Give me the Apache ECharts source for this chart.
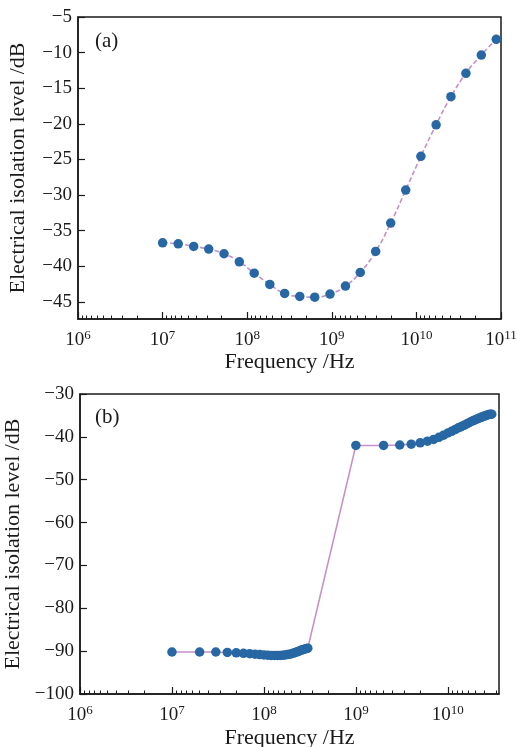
<!DOCTYPE html>
<html>
<head>
<meta charset="utf-8">
<script src="https://cdn.jsdelivr.net/npm/echarts@6/dist/echarts.min.js"></script>
<style>
html, body { margin: 0; padding: 0; background: #fff; }
#chart { width: 517px; height: 747px; }
</style>
</head>
<body>
<div id="chart"></div>
<script>
// (a) measured isolation, roughly log-spaced frequencies
var freqA = [1.0e7, 1.53e7, 2.33e7, 3.51e7, 5.32e7, 8.07e7, 1.21e8, 1.85e8, 2.77e8, 4.18e8, 6.28e8, 9.53e8,
             1.45e9, 2.17e9, 3.30e9, 4.97e9, 7.48e9, 1.13e10, 1.71e10, 2.56e10, 3.85e10, 5.85e10, 8.79e10];
var isoA = [-36.7, -36.84, -37.21, -37.58, -38.24, -39.37, -40.96, -42.54, -43.81, -44.23, -44.33, -43.9,
            -42.78, -40.86, -37.91, -33.93, -29.3, -24.56, -20.14, -16.19, -12.91, -10.34, -8.13];

// (b) two sweeps: 10 MHz..300 MHz and 1 GHz..30 GHz
var freqB = [1e7, 2e7, 3e7, 4e7, 5e7, 6e7, 7e7, 8e7, 9e7, 1e8,
             1.1e8, 1.2e8, 1.3e8, 1.4e8, 1.5e8, 1.6e8, 1.7e8, 1.8e8, 1.9e8, 2e8,
             2.1e8, 2.2e8, 2.3e8, 2.4e8, 2.5e8, 2.6e8, 2.7e8, 2.8e8, 2.9e8, 3e8,
             1e9, 2e9, 3e9, 4e9, 5e9, 6e9, 7e9, 8e9, 9e9, 1e10,
             1.1e10, 1.2e10, 1.3e10, 1.4e10, 1.5e10, 1.6e10, 1.7e10, 1.8e10, 1.9e10, 2e10,
             2.1e10, 2.2e10, 2.3e10, 2.4e10, 2.5e10, 2.6e10, 2.7e10, 2.8e10, 2.9e10, 3e10];
var isoB = [-90.2, -90.2, -90.2, -90.3, -90.4, -90.5, -90.6, -90.7, -90.8, -90.9,
            -90.95, -91.0, -91.0, -91.0, -91.0, -90.95, -90.9, -90.8, -90.7, -90.6,
            -90.45, -90.3, -90.15, -90.0, -89.85, -89.7, -89.6, -89.5, -89.4, -89.3,
            -42.0, -42.0, -41.9, -41.7, -41.4, -41.0, -40.6, -40.1, -39.6, -39.1,
            -38.7, -38.3, -37.9, -37.6, -37.3, -37.0, -36.7, -36.4, -36.2, -36.0,
            -35.8, -35.6, -35.45, -35.3, -35.15, -35.0, -34.9, -34.8, -34.75, -34.7];

var decadesA = [1e6, 1e7, 1e8, 1e9, 1e10, 1e11];
var decadesB = [1e6, 1e7, 1e8, 1e9, 1e10];
var yTicksA = [-45, -40, -35, -30, -25, -20, -15, -10, -5];
var yTicksB = [-100, -90, -80, -70, -60, -50, -40, -30];

var FONT = 'Liberation Serif';
var INK = '#1a1a1a';
var DOT = '#2767a3';
var LINE = '#c68fc9';

// minor ticks: dense just after each decade, as in the source figure
function minorTicks(lo, hi) {
    var out = [];
    for (var d = lo; d < hi; d *= 10) {
        for (var k = 2; k <= 9; k++) {
            var v = d * 10 / k;
            if (v < hi) out.push(v);
        }
    }
    return out;
}

function pairs(xs, ys) {
    return xs.map(function (x, i) { return [x, ys[i]]; });
}

function majorX(grid, max, decades, nameGap) {
    return {
        gridIndex: grid, type: 'log', logBase: 10, min: 1e6, max: max, position: 'bottom',
        name: 'Frequency /Hz', nameLocation: 'middle', nameGap: nameGap,
        nameTextStyle: { fontFamily: FONT, fontSize: 22, color: INK },
        axisLine: { show: true, lineStyle: { color: INK, width: 1.5 } },
        axisTick: { show: true, inside: true, length: 7, lineStyle: { color: INK, width: 1.2 }, customValues: decades },
        axisLabel: {
            show: true, margin: 10, customValues: decades,
            formatter: function (v) { return '{b|10}{s|' + Math.round(Math.log10(v)) + '}'; },
            rich: {
                b: { fontFamily: FONT, fontSize: 19, color: INK },
                s: { fontFamily: FONT, fontSize: 13, color: INK, padding: [0, 0, 9, 0] }
            }
        },
        splitLine: { show: false }
    };
}

function minorX(grid, max) {
    return {
        gridIndex: grid, type: 'log', logBase: 10, min: 1e6, max: max, position: 'bottom',
        axisLine: { show: false },
        axisTick: { show: true, inside: true, length: 3.5, lineStyle: { color: INK, width: 1 }, customValues: minorTicks(1e6, max) },
        axisLabel: { show: false },
        splitLine: { show: false }
    };
}

function yAx(grid, min, max, ticks, nameGap) {
    return {
        gridIndex: grid, type: 'value', min: min, max: max,
        name: 'Electrical isolation level /dB', nameLocation: 'middle', nameGap: nameGap, nameRotate: 90,
        nameTextStyle: { fontFamily: FONT, fontSize: 22, color: INK },
        axisLine: { show: true, lineStyle: { color: INK, width: 1.5 } },
        axisTick: { show: true, inside: true, length: 7, lineStyle: { color: INK, width: 1.2 }, customValues: ticks },
        axisLabel: {
            show: true, margin: 6, customValues: ticks, fontFamily: FONT, fontSize: 19, color: INK,
            formatter: function (v) { return String(v).replace('-', '\u2212'); }
        },
        splitLine: { show: false }
    };
}

var chart = echarts.init(document.getElementById('chart'), null, { renderer: 'canvas' });

chart.setOption({
    animation: false,
    backgroundColor: '#fff',
    grid: [
        { left: 78, right: 16, top: 17, height: 302, show: true, borderColor: INK, borderWidth: 1.5, outerBoundsMode: 'none' },
        { left: 80, right: 18, top: 394, height: 300, show: true, borderColor: INK, borderWidth: 1.5, outerBoundsMode: 'none' }
    ],
    xAxis: [
        majorX(0, 1e11, decadesA, 32),
        minorX(0, 1e11),
        majorX(1, 3.6e10, decadesB, 33),
        minorX(1, 3.6e10)
    ],
    yAxis: [
        yAx(0, -47.4, -5, yTicksA, 49),
        yAx(1, -100, -30, yTicksB, 52)
    ],
    graphic: [
        { type: 'text', left: 95, top: 31, style: { text: '(a)', font: '21px "Liberation Serif"', fill: INK } },
        { type: 'text', left: 95, top: 407, style: { text: '(b)', font: '21px "Liberation Serif"', fill: INK } }
    ],
    series: [
        {
            type: 'line', xAxisIndex: 0, yAxisIndex: 0, data: pairs(freqA, isoA),
            smooth: true, symbol: 'circle', symbolSize: 9.5,
            itemStyle: { color: DOT },
            lineStyle: { color: LINE, width: 1.6, type: [5, 2.5] }
        },
        {
            type: 'line', xAxisIndex: 2, yAxisIndex: 1, data: pairs(freqB, isoB),
            symbol: 'circle', symbolSize: 9.5,
            itemStyle: { color: DOT },
            lineStyle: { color: LINE, width: 1.6 }
        }
    ]
});
</script>
</body>
</html>
